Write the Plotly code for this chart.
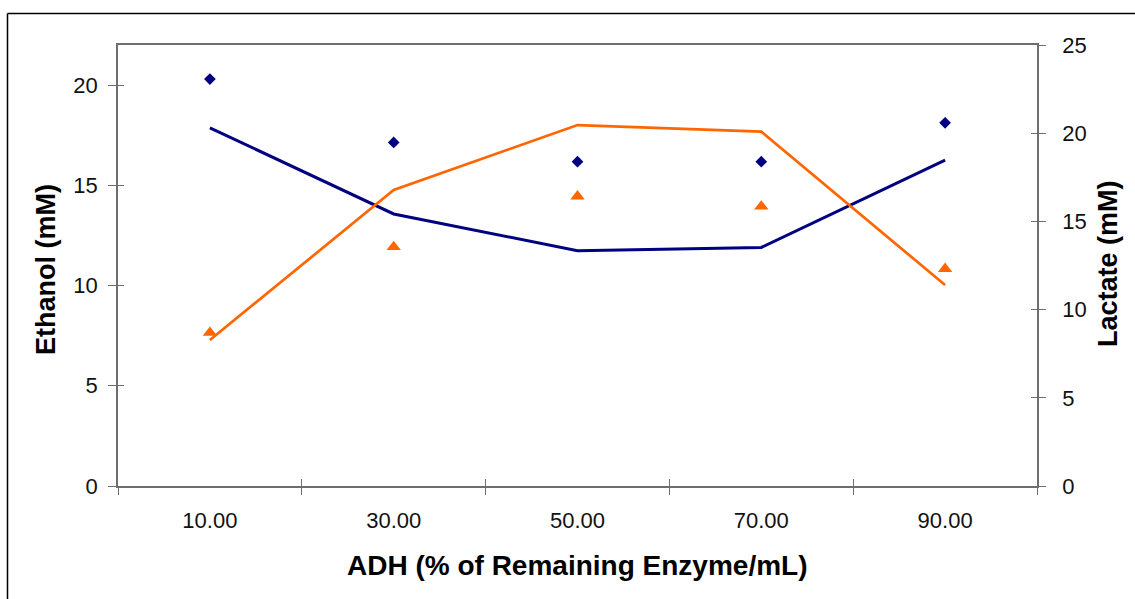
import plotly.graph_objects as go

# ADH levels (category axis)
adh_levels = ["10.00", "30.00", "50.00", "70.00", "90.00"]

# Ethanol (mM), left axis
ethanol_points = [20.3, 17.14, 16.18, 16.18, 18.12]
ethanol_line = [17.87, 13.57, 11.74, 11.9, 16.26]

# Lactate (mM), right axis
lactate_points = [8.69, 13.55, 16.42, 15.85, 12.31]
lactate_line = [8.28, 16.78, 20.46, 20.09, 11.39]

left_ticks = [0, 5, 10, 15, 20]
right_ticks = [0, 5, 10, 15, 20, 25]

NAVY = "#000080"
ORANGE = "#FF6600"
AXIS = "#6e6e6e"
TEXT = "#111111"
FONT = "Liberation Sans, Arial, sans-serif"

W, H = 1135, 599
L, R, T, B = 118, 1037, 45, 486  # plot area in pixels


def px_x(px):
    return (px - L) / (R - L)


def px_y(py):
    return (B - py) / (B - T)


fig = go.Figure()

fig.add_trace(go.Scatter(x=adh_levels, y=ethanol_line, mode="lines",
                         line=dict(color=NAVY, width=3), yaxis="y",
                         showlegend=False, hoverinfo="skip"))
fig.add_trace(go.Scatter(x=adh_levels, y=lactate_line, mode="lines",
                         line=dict(color=ORANGE, width=2.7), yaxis="y2",
                         showlegend=False, hoverinfo="skip"))
fig.add_trace(go.Scatter(x=adh_levels, y=ethanol_points, mode="markers",
                         marker=dict(symbol="diamond", size=9, color=NAVY),
                         yaxis="y", showlegend=False))
fig.add_trace(go.Scatter(x=adh_levels, y=lactate_points, mode="markers",
                         marker=dict(symbol="triangle-up", size=12.5, color=ORANGE),
                         yaxis="y2", showlegend=False))

tickfont = dict(family=FONT, size=22, color=TEXT)

fig.update_layout(
    width=W, height=H,
    margin=dict(l=L, r=W - R, t=T, b=H - B, pad=0),
    paper_bgcolor="white", plot_bgcolor="white",
    xaxis=dict(type="category", tickson="boundaries", ticks="outside",
               ticklen=7, tickcolor=AXIS, tickwidth=1.3,
               showline=True, linecolor=AXIS, linewidth=1.5, mirror=True,
               showgrid=False, zeroline=False, tickfont=tickfont,
               ticklabelstandoff=14, range=[-0.5, 4.5]),
    xaxis2=dict(type="category", overlaying="x", matches="x", tickson="boundaries",
                ticks="inside", ticklen=7, tickcolor=AXIS, tickwidth=1.3,
                showticklabels=False, showgrid=False, showline=False,
                side="bottom", anchor="y"),
    yaxis=dict(range=[0, 22], tickvals=left_ticks, ticks="outside", ticklen=8,
               tickcolor=AXIS, tickwidth=1.3, showline=True, linecolor=AXIS,
               linewidth=1.5, showgrid=False, zeroline=False, tickfont=tickfont,
               ticklabelstandoff=6),
    yaxis2=dict(range=[0, 25], tickvals=right_ticks, overlaying="y", side="right",
                ticks="outside", ticklen=7, tickcolor=AXIS, tickwidth=1.3,
                showline=True, linecolor=AXIS, linewidth=1.5, showgrid=False,
                zeroline=False, tickfont=tickfont, ticklabelstandoff=12),
    yaxis3=dict(range=[0, 22], tickvals=left_ticks, overlaying="y", side="left",
                ticks="inside", ticklen=6, tickcolor=AXIS, tickwidth=1.3,
                showticklabels=False, showgrid=False, showline=False, zeroline=False),
    yaxis4=dict(range=[0, 25], tickvals=right_ticks, overlaying="y", side="right",
                ticks="inside", ticklen=6, tickcolor=AXIS, tickwidth=1.3,
                showticklabels=False, showgrid=False, showline=False, zeroline=False),
)

# invisible carriers for the inner half of the crossing tick marks
fig.add_trace(go.Scatter(x=adh_levels, y=[None] * 5, xaxis="x2", yaxis="y3",
                         showlegend=False, hoverinfo="skip"))
fig.add_trace(go.Scatter(x=adh_levels, y=[None] * 5, xaxis="x", yaxis="y4",
                         showlegend=False, hoverinfo="skip"))

fig.add_annotation(text="<b>ADH (% of Remaining Enzyme/mL)</b>", xref="paper",
                   yref="paper", x=px_x(577), y=px_y(565), showarrow=False,
                   font=dict(family=FONT, size=28, color="#000000"),
                   xanchor="center", yanchor="middle")
fig.add_annotation(text="<b>Ethanol (mM)</b>", xref="paper", yref="paper",
                   x=px_x(46), y=px_y(270), textangle=-90, showarrow=False,
                   font=dict(family=FONT, size=27, color="#000000"),
                   xanchor="center", yanchor="middle")
fig.add_annotation(text="<b>Lactate (mM)</b>", xref="paper", yref="paper",
                   x=px_x(1108), y=px_y(264), textangle=-90, showarrow=False,
                   font=dict(family=FONT, size=27, color="#000000"),
                   xanchor="center", yanchor="middle")

# outer chart frame (left and top edges)
frame = dict(color="#000000", width=1.5)
fig.add_shape(type="line", xref="paper", yref="paper", x0=px_x(7.5), x1=px_x(7.5),
              y0=px_y(13.5), y1=px_y(H + 2), line=frame)
fig.add_shape(type="line", xref="paper", yref="paper", x0=px_x(7.5), x1=px_x(W + 2),
              y0=px_y(13.5), y1=px_y(13.5), line=frame)

fig.write_html("out.html")
